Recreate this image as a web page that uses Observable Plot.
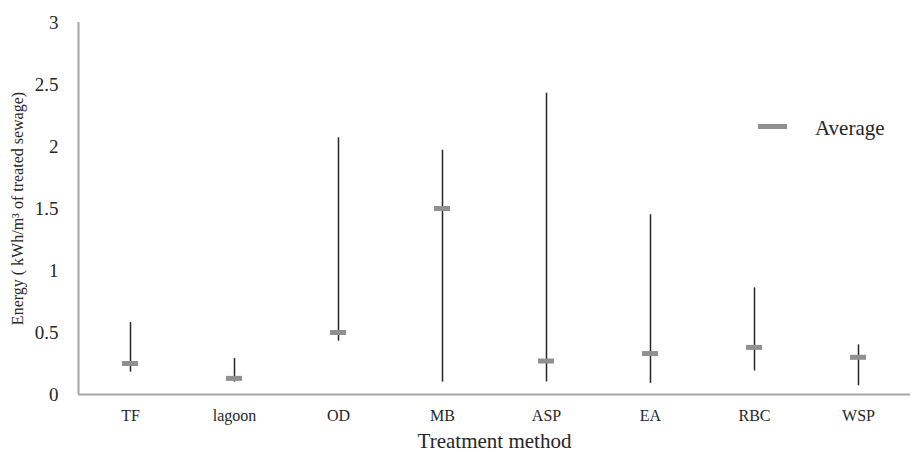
<!DOCTYPE html>
<html>
<head>
<meta charset="utf-8">
<script src="https://cdn.jsdelivr.net/npm/d3@7"></script>
<script src="https://cdn.jsdelivr.net/npm/@observablehq/plot@0.6"></script>
<style>
  html, body { margin: 0; padding: 0; background: #fff; }
  #wrap { position: relative; width: 913px; height: 452px; font-family: "Liberation Serif", "Times New Roman", serif; }
  #legend-sw { position: absolute; left: 758px; top: 124px; width: 29px; height: 5px; background: #909090; }
  #legend-tx { position: absolute; left: 815px; top: 118px; font-size: 21px; line-height: 21px; color: #262626; white-space: nowrap; }
</style>
</head>
<body>
<div id="wrap"></div>
<script>
// Data
const methods = ["TF", "lagoon", "OD", "MB", "ASP", "EA", "RBC", "WSP"];
const minValues = [0.18, 0.10, 0.43, 0.10, 0.10, 0.09, 0.19, 0.07];
const maxValues = [0.58, 0.29, 2.07, 1.97, 2.43, 1.45, 0.86, 0.40];
const avgValues = [0.25, 0.13, 0.50, 1.50, 0.27, 0.33, 0.38, 0.30];
const yTicks = [0, 0.5, 1, 1.5, 2, 2.5, 3];
const yLabel = "Energy ( kWh/m³ of treated sewage)";
const xLabel = "Treatment method";
const legendLabel = "Average";

const rows = methods.map((m, i) => ({method: m, min: minValues[i], max: maxValues[i], avg: avgValues[i]}));

const W = 913, H = 452, mL = 78, mR = 3, mT = 22, mB = 58;
const band = (W - mL - mR) / methods.length;
const markerW = 16;
const inset = (band - markerW) / 2;

const chart = Plot.plot({
  width: W,
  height: H,
  marginLeft: mL,
  marginRight: mR,
  marginTop: mT,
  marginBottom: mB,
  style: {fontFamily: "'Liberation Serif', 'Times New Roman', serif", color: "#262626", background: "#fff"},
  x: {type: "band", domain: methods, padding: 0, label: null},
  y: {domain: [0, 3], label: null},
  marks: [
    Plot.ruleY([0], {stroke: "#a6a6a6", strokeWidth: 2}),
    Plot.ruleX([methods[0]], {x: d => d, dx: -band / 2, stroke: "#a6a6a6", strokeWidth: 2}),
    Plot.axisY({ticks: yTicks, tickSize: 0, tickPadding: 20, fontSize: 19, label: null, tickFormat: d => String(d)}),
    Plot.axisX({tickSize: 0, tickPadding: 15, fontSize: 16, label: null}),
    Plot.text([yLabel], {text: d => d, frameAnchor: "left", rotate: -90, dx: -61, textAnchor: "middle", fontSize: 16}),
    Plot.text([xLabel], {text: d => d, frameAnchor: "bottom", dy: 53, lineAnchor: "bottom", textAnchor: "middle", fontSize: 21}),
    Plot.ruleX(rows, {x: "method", y1: "min", y2: "max", stroke: "#262626", strokeWidth: 1.5}),
    Plot.tickY(rows, {x: "method", y: "avg", stroke: "#909090", strokeWidth: 5, insetLeft: inset, insetRight: inset})
  ]
});

const wrap = document.getElementById("wrap");
wrap.appendChild(chart);
const sw = document.createElement("div");
sw.id = "legend-sw";
const lt = document.createElement("div");
lt.id = "legend-tx";
lt.textContent = legendLabel;
wrap.appendChild(sw);
wrap.appendChild(lt);
</script>
</body>
</html>
